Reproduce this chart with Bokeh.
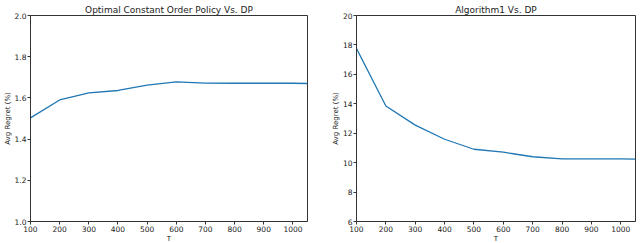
from bokeh.plotting import figure
from bokeh.layouts import row
from bokeh.models import Range1d, FixedTicker, PrintfTickFormatter
from bokeh.embed import file_html
from bokeh.resources import INLINE

T = [100, 200, 300, 400, 500, 600, 700, 800, 900, 1000, 1050]
const_regret = [1.503, 1.590, 1.624, 1.636, 1.662, 1.678, 1.672, 1.671, 1.671, 1.671, 1.670]
alg1_regret = [17.76, 13.85, 12.55, 11.59, 10.91, 10.71, 10.40, 10.26, 10.26, 10.26, 10.24]
x_ticks = [100, 200, 300, 400, 500, 600, 700, 800, 900, 1000]
left_yticks = [1.0, 1.2, 1.4, 1.6, 1.8, 2.0]
right_yticks = [6, 8, 10, 12, 14, 16, 18, 20]

FONT = "DejaVu Sans"


def make(title, xs, ys, yr, yticks, fmt_left, border_left, border_right, border_top):
    p = figure(width=320, height=245, output_backend="svg", toolbar_location=None,
               x_range=Range1d(100, 1050), y_range=Range1d(*yr),
               min_border_left=border_left, min_border_right=border_right,
               min_border_top=border_top, min_border_bottom=22)
    p.title.text = title
    p.title.align = "center"
    p.title.text_font = FONT
    p.title.text_font_size = "9px"
    p.title.text_font_style = "normal"
    p.title.text_color = "#222222"
    p.title.offset = 0
    p.title.standoff = 1
    p.line(xs, ys, line_color="#1f77b4", line_width=1.3)
    p.xgrid.visible = False
    p.ygrid.visible = False
    p.outline_line_color = "#333333"
    p.outline_line_width = 1
    p.xaxis.ticker = FixedTicker(ticks=x_ticks)
    p.yaxis.ticker = FixedTicker(ticks=yticks)
    for ax in (p.xaxis[0], p.yaxis[0]):
        ax.major_label_text_font = FONT
        ax.major_label_text_font_size = "7.5px"
        ax.major_label_text_color = "#222222"
        ax.axis_label_text_font = FONT
        ax.axis_label_text_font_size = "7px"
        ax.axis_label_text_font_style = "normal"
        ax.axis_label_text_color = "#222222"
        ax.axis_line_color = "#333333"
        ax.major_tick_line_color = "#333333"
        ax.major_tick_out = 3
        ax.major_tick_in = 0
        ax.minor_tick_line_color = None
        ax.major_label_standoff = 1
        ax.axis_label_standoff = 0
    p.xaxis.axis_label = "T"
    p.yaxis.axis_label = "Avg Regret (%)"
    if fmt_left:
        p.yaxis.formatter = PrintfTickFormatter(format="%.1f")
    else:
        p.yaxis.formatter = PrintfTickFormatter(format="%d")
    return p


p1 = make("Optimal Constant Order Policy Vs. DP", T, const_regret, (1.0, 2.0),
          left_yticks, True, 29, 13, 15)
p2 = make("Algorithm1 Vs. DP", T, alg1_regret, (6, 20), right_yticks, False, 36, 5, 13)

layout = row(p1, p2, styles={"position": "absolute", "top": "0px", "left": "0px"})
open("out.html", "w").write(file_html(layout, INLINE))
